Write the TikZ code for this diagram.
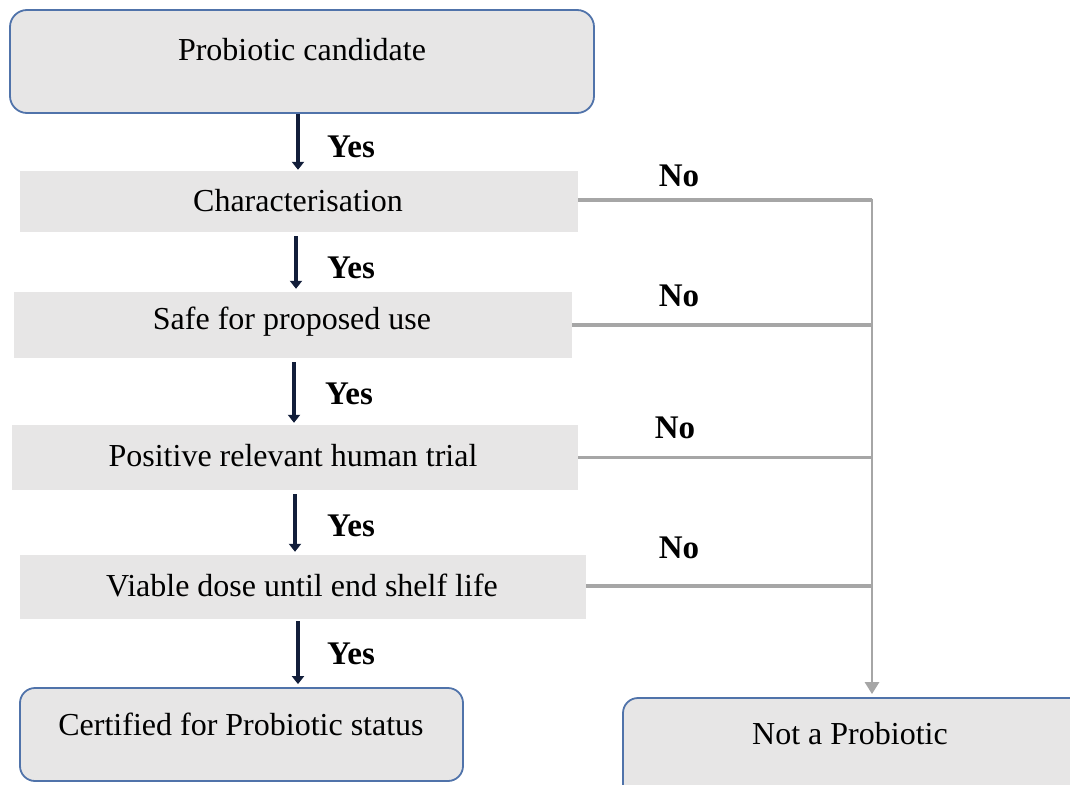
\documentclass[tikz,border=0pt]{standalone}
\usepackage{fontspec}
\setmainfont{Liberation Serif}
\usetikzlibrary{arrows.meta}

\definecolor{boxfill}{RGB}{231,230,230}
\definecolor{boxline}{RGB}{80,115,170}
\definecolor{yesarrowcol}{RGB}{18,30,58}
\definecolor{noline}{RGB}{166,166,166}

\tikzset{
  roundbox/.style={draw=boxline, line width=1.8pt, fill=boxfill, rounded corners=17pt, inner sep=0pt},
  stepbox/.style={fill=boxfill, inner sep=0pt},
  lbl/.style={inner sep=0pt, font=\fontsize{32}{37}\selectfont},
  ans/.style={inner sep=0pt, font=\fontsize{33}{38}\selectfont\bfseries},
  yesarrow/.style={draw=yesarrowcol, line width=4.2pt, -{Triangle[width=12pt,length=8pt]}},
  noline/.style={draw=noline, line width=3.6pt},
  notrunk/.style={draw=noline, line width=2.8pt, -{Triangle[width=14pt,length=12pt]}},
}

\begin{document}
\begin{tikzpicture}[x=1pt, y=-1pt]
  \useasboundingbox (0,0) rectangle (1070,784);
  \clip (0,0) rectangle (1070,784);

  % decision boxes
  \node[roundbox, minimum width=584pt, minimum height=103pt] (cand) at (302,61.5) {};
  \node[lbl] (candtxt) at (302,50) {Probiotic candidate};

  \node[stepbox, minimum width=558pt, minimum height=61pt] (char) at (299,201.5) {};
  \node[lbl] (chartxt) at (298,201) {Characterisation};

  \node[stepbox, minimum width=558pt, minimum height=66pt] (safe) at (293,325) {};
  \node[lbl] (safetxt) at (292,322) {Safe for proposed use};

  \node[stepbox, minimum width=566pt, minimum height=65pt] (trial) at (295,457.5) {};
  \node[lbl] (trialtxt) at (293,456) {Positive relevant human trial};

  \node[stepbox, minimum width=566pt, minimum height=64pt] (dose) at (303,587) {};
  \node[lbl] (dosetxt) at (302,585) {Viable dose until end shelf life};

  \node[roundbox, rounded corners=15pt, minimum width=443pt, minimum height=93pt] (cert) at (241.5,734.5) {};
  \node[lbl] (certtxt) at (241,724) {Certified for Probiotic status};

  \node[roundbox, rounded corners=15pt, minimum width=466pt, minimum height=104pt] (notp) at (856,750) {};
  \node[lbl] (notptxt) at (850,734) {Not a Probiotic};

  % x positions of the "Yes" arrows and of the "No" trunk
  \coordinate (ya) at (298,0);
  \coordinate (yb) at (296,0);
  \coordinate (yc) at (294,0);
  \coordinate (yd) at (295,0);
  \coordinate (ye) at (298,0);
  \coordinate (trunk) at (872,0);

  % "Yes" arrows
  \draw[yesarrow, shorten >=1pt] (cand.south -| ya) -- (char.north -| ya);
  \draw[yesarrow, shorten <=4pt, shorten >=3pt] (char.south -| yb) -- (safe.north -| yb);
  \draw[yesarrow, shorten <=4pt, shorten >=2pt] (safe.south -| yc) -- (trial.north -| yc);
  \draw[yesarrow, shorten <=4pt, shorten >=3pt] (trial.south -| yd) -- (dose.north -| yd);
  \draw[yesarrow, shorten <=2pt, shorten >=3pt] (dose.south -| ye) -- (cert.north -| ye);

  \node[ans] (yes1) at (351,147) {Yes};
  \node[ans] (yes2) at (351,268) {Yes};
  \node[ans] (yes3) at (349,394) {Yes};
  \node[ans] (yes4) at (351,526) {Yes};
  \node[ans] (yes5) at (351,654) {Yes};

  % "No" branches into the trunk
  \draw[noline] (char.east |- 0,200) -- (trunk |- 0,200);
  \draw[notrunk, shorten >=3pt] (trunk |- 0,198.6) -- (notp.north -| trunk);
  \draw[noline] (safe.east) -- (safe.east -| trunk);
  \draw[noline] (trial.east) -- (trial.east -| trunk);
  \draw[noline] (dose.east |- 0,586) -- (trunk |- 0,586);

  \node[ans] (no1) at (679,176) {No};
  \node[ans] (no2) at (679,296) {No};
  \node[ans] (no3) at (675,428) {No};
  \node[ans] (no4) at (679,548) {No};
\end{tikzpicture}
\end{document}
